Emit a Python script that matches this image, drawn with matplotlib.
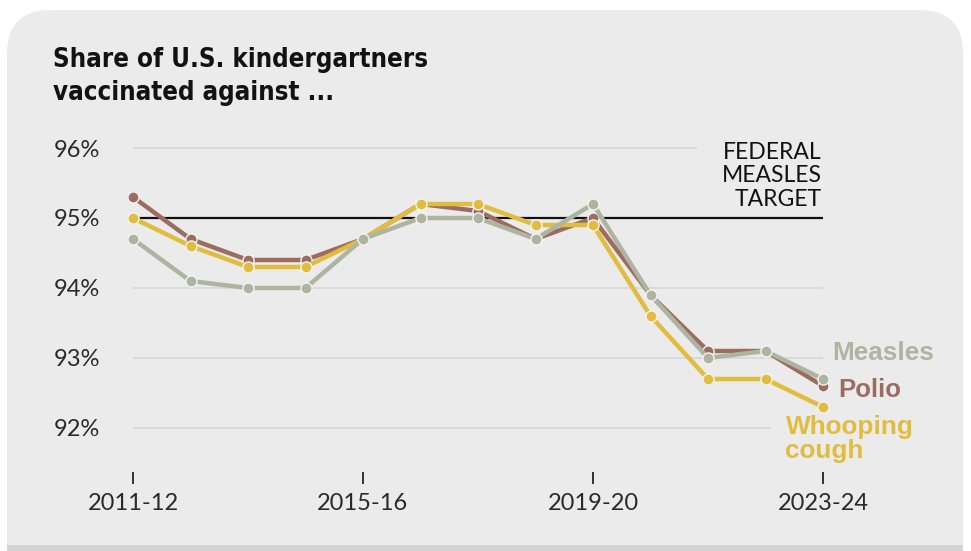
import matplotlib
matplotlib.use("Agg")
import matplotlib.pyplot as plt
from matplotlib.patches import FancyBboxPatch, Rectangle
import numpy as np

# ---- data ----
years = ["2011-12", "2012-13", "2013-14", "2014-15", "2015-16", "2016-17", "2017-18",
         "2018-19", "2019-20", "2020-21", "2021-22", "2022-23", "2023-24"]
polio = [95.3, 94.7, 94.4, 94.4, 94.7, 95.2, 95.1, 94.7, 95.0, 93.9, 93.1, 93.1, 92.6]
whooping = [95.0, 94.6, 94.3, 94.3, 94.7, 95.2, 95.2, 94.9, 94.9, 93.6, 92.7, 92.7, 92.3]
measles = [94.7, 94.1, 94.0, 94.0, 94.7, 95.0, 95.0, 94.7, 95.2, 93.9, 93.0, 93.1, 92.7]
target = 95.0
y_ticks = [92, 93, 94, 95, 96]
y_tick_labels = ["92%", "93%", "94%", "95%", "96%"]
x_tick_idx = [0, 4, 8, 12]
title = "Share of U.S. kindergartners\nvaccinated against ..."

# ---- style ----
W, H = 971, 551
PX = 72 / 100  # points per pixel
BG = "#ebebeb"
C_POLIO = "#9d6c60"
C_WHOOP = "#e0bd3e"
C_MEAS = "#adb5a1"
TXT = "#2a2a2a"
LIGHT_FONT = ["Lato", "DejaVu Sans"]

fig = plt.figure(figsize=(W / 100, H / 100), dpi=100)
fig.patch.set_facecolor("white")

# panel background (bottom corners pushed below the figure)
panel = FancyBboxPatch((7 / W, -80 / H), (963 - 7) / W, (551 - 10 + 80) / H,
                       boxstyle="round,pad=0,rounding_size=0.045",
                       transform=fig.transFigure, facecolor=BG, edgecolor="none",
                       mutation_aspect=W / H, zorder=-10)
fig.patches.append(panel)
band = Rectangle((7 / W, 0), (963 - 7) / W, 6 / H, transform=fig.transFigure,
                 facecolor="#d3d3d3", edgecolor="none", zorder=-9)
fig.patches.append(band)

# axes: x index 0 -> px 133, 12 -> px 823 ; y 96 -> px 148, 92 -> px 428
ax = fig.add_axes([133 / W, (H - 428) / H, (823 - 133) / W, (428 - 148) / H])
ax.set_facecolor("none")
ax.set_xlim(0, len(years) - 1)
ax.set_ylim(92, 96)
for s in ax.spines.values():
    s.set_visible(False)

# gridlines (clipped before labels)
grid_end = {92: 11.1, 93: 12.0, 94: 12.0, 95: 12.0, 96: 9.8}
for yv in y_ticks:
    ax.plot([0, grid_end[yv]], [yv, yv], color="#d9d9d9", lw=1.3, zorder=1,
            clip_on=False, solid_capstyle="butt")

# target line
ax.plot([0, len(years) - 1], [target, target], color="#111111", lw=1.6, zorder=2,
        clip_on=False, solid_capstyle="butt")
ax.annotate("FEDERAL\nMEASLES\nTARGET", xy=(len(years) - 1, target),
            xytext=(-1, 6), textcoords="offset points", ha="right", va="bottom",
            multialignment="right", fontsize=16.5, color="#111111",
            family=LIGHT_FONT, linespacing=1.13)

x = np.arange(len(years))
for vals, col, z in [(polio, C_POLIO, 3), (whooping, C_WHOOP, 4), (measles, C_MEAS, 5)]:
    ax.plot(x, vals, color=col, lw=3.2, zorder=z, clip_on=False,
            marker="o", markersize=8, markerfacecolor=col,
            markeredgecolor="#f4f4f4", markeredgewidth=1.0,
            solid_capstyle="round", solid_joinstyle="round")

# series labels
lab_font = ["Liberation Sans", "DejaVu Sans"]
last = len(years) - 1
ax.annotate("Measles", xy=(last, measles[-1]), xytext=(7, 19), textcoords="offset points",
            ha="left", va="center", fontsize=18.8, fontweight="bold", color=C_MEAS,
            family=lab_font)
ax.annotate("Polio", xy=(last, polio[-1]), xytext=(11, -3), textcoords="offset points",
            ha="left", va="center", fontsize=18.5, fontweight="bold", color=C_POLIO,
            family=lab_font)
ax.annotate("Whooping\ncough", xy=(last, whooping[-1]), xytext=(-27, -6),
            textcoords="offset points", ha="left", va="top", fontsize=18.8,
            fontweight="bold", color=C_WHOOP, family=lab_font, linespacing=1.0)

# y ticks
ax.set_yticks(y_ticks)
ax.set_yticklabels(y_tick_labels)
ax.tick_params(axis="y", length=0, pad=33 * PX, labelsize=17, labelcolor=TXT)
for t in ax.get_yticklabels():
    t.set_family(LIGHT_FONT)
    t.set_fontweight("normal")

# x ticks
ax.spines["bottom"].set_position(("outward", 44 * PX))
ax.set_xticks(x_tick_idx)
ax.set_xticklabels([years[i] for i in x_tick_idx])
ax.tick_params(axis="x", length=12 * PX, width=1.3, color="#222222", direction="out",
               pad=9 * PX, labelsize=17, labelcolor=TXT)
for t in ax.get_xticklabels():
    t.set_family(LIGHT_FONT)
    t.set_fontweight("normal")

# title
fig.text(53 / W, 1 - 47 / H, title, ha="left", va="top", fontsize=18.5,
         fontweight="bold", fontstretch="condensed", color="#121212",
         family=["DejaVu Sans"], linespacing=1.34)

fig.savefig("out.png", dpi=100, facecolor=fig.get_facecolor())
